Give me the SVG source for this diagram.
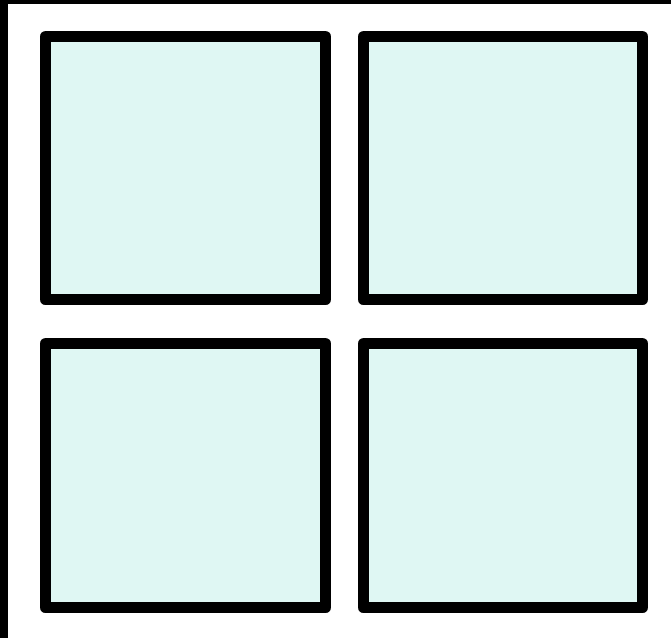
<svg xmlns="http://www.w3.org/2000/svg" width="671" height="638" viewBox="0 0 671 638">
<style>
.pane{fill:#dff7f3;stroke:#000;stroke-width:11;stroke-linejoin:round}
</style>
<rect x="0" y="0" width="671" height="638" fill="#fff"/>
<g id="frame">
<rect x="0" y="0" width="671" height="4" fill="#000"/>
<rect x="0" y="0" width="8" height="638" fill="#000"/>
</g>
<g id="pane-top-left"><rect class="pane" x="45.5" y="36.5" width="280" height="263"/></g>
<g id="pane-top-right"><rect class="pane" x="363.5" y="36.5" width="279" height="263"/></g>
<g id="pane-bottom-left"><rect class="pane" x="45.5" y="343.5" width="280" height="264"/></g>
<g id="pane-bottom-right"><rect class="pane" x="363.5" y="343.5" width="279" height="264"/></g>
<g id="connectors"></g>
</svg>
